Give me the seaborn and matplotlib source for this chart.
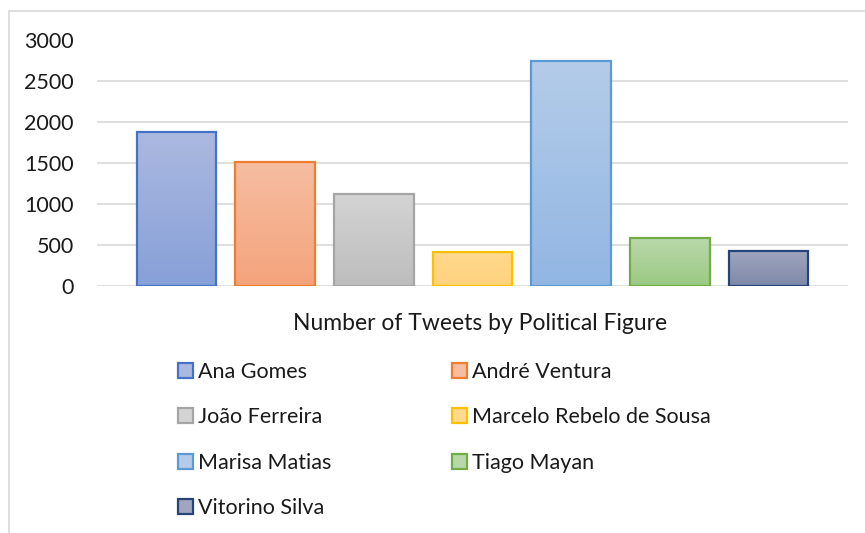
import numpy as np
import pandas as pd
import matplotlib
matplotlib.use("Agg")
import matplotlib.pyplot as plt
import seaborn as sns
from matplotlib.colors import LinearSegmentedColormap
from matplotlib.patches import Patch
from matplotlib.lines import Line2D

names = ["Ana Gomes", "André Ventura", "João Ferreira", "Marcelo Rebelo de Sousa",
         "Marisa Matias", "Tiago Mayan", "Vitorino Silva"]
tweets = [1880, 1510, 1120, 415, 2740, 585, 432]
yticks = [0, 500, 1000, 1500, 2000, 2500, 3000]
xlabel = "Number of Tweets by Political Figure"

top_colors = ["#ABB9E0", "#F6BDA1", "#D4D4D4", "#FFD98E", "#B4CCE9", "#B9D8AA", "#A1A6BF"]
bot_colors = ["#87A0D8", "#F4A47C", "#BDBDBD", "#FFD27D", "#92B6E3", "#9BCA84", "#7E88A8"]
edge_colors = ["#4472C4", "#ED7D31", "#A5A5A5", "#FFC000", "#5B9BD5", "#70AD47", "#264478"]

sns.set_theme(style="white")
plt.rcParams["font.family"] = ["Lato", "DejaVu Sans"]

fig = plt.figure(figsize=(8.65, 5.33), dpi=100)
ax = fig.add_axes([97/865, 1-286/533, (848-97)/865, (286-39.5)/533])

df = pd.DataFrame({"name": names, "tweets": tweets})
sns.barplot(data=df, x="name", y="tweets", hue="name", palette=top_colors,
            dodge=False, legend=False, ax=ax, width=0.81, saturation=1)

for i, p in enumerate(ax.patches):
    x0, y0 = p.get_x(), p.get_y()
    w, h = p.get_width(), p.get_height()
    cmap = LinearSegmentedColormap.from_list("g%d" % i, [bot_colors[i], top_colors[i]])
    grad = np.linspace(0, 1, 256).reshape(-1, 1)
    im = ax.imshow(grad, extent=[x0, x0 + w, y0, y0 + h], origin="lower",
                   aspect="auto", cmap=cmap, zorder=2.5, interpolation="bicubic")
    im.set_clip_path(p)
    p.set_facecolor("none")
    p.set_edgecolor(edge_colors[i])
    p.set_linewidth(1.6)
    p.set_zorder(3)

ax.set_xlim(-0.806, 6.806)
ax.set_ylim(0, 3000)
ax.set_yticks(yticks)
ax.set_yticklabels([str(v) for v in yticks], fontsize=15.5, color="#1a1a1a")
ax.set_xticks([])
ax.set_xlabel("")
ax.set_ylabel("")
ax.tick_params(axis="y", length=0, pad=16.6)
for s in ax.spines.values():
    s.set_visible(False)
ax.yaxis.grid(True, color="#D9D9D9", linewidth=1.2)
ax.set_axisbelow(True)

fig.text((97+848)/2/865 + 8/865, 1-323/533, xlabel, ha="center", va="center",
         fontsize=16.5, color="#1a1a1a")

# chart outer border
fig.add_artist(Line2D([8.5/865, 1.0], [1-10.5/533]*2, color="#D9D9D9", lw=1.2))
fig.add_artist(Line2D([8.5/865]*2, [1-10.5/533, 0.0], color="#D9D9D9", lw=1.2))

def make_legend(idx, x_px):
    handles = [Patch(facecolor=top_colors[i], edgecolor=edge_colors[i], linewidth=1.6) for i in idx]
    labels = [names[i] for i in idx]
    leg = fig.legend(handles, labels, ncol=1, loc="upper left",
                     bbox_to_anchor=(x_px/865, 1-362/533), frameon=False, fontsize=15.5,
                     handlelength=0.7, handleheight=0.7, handletextpad=0.25,
                     labelspacing=1.18, borderpad=0, borderaxespad=0,
                     labelcolor="#1a1a1a")
    return leg

make_legend([0, 2, 4, 6], 178)
make_legend([1, 3, 5], 452)

fig.savefig("out.png", dpi=100)
